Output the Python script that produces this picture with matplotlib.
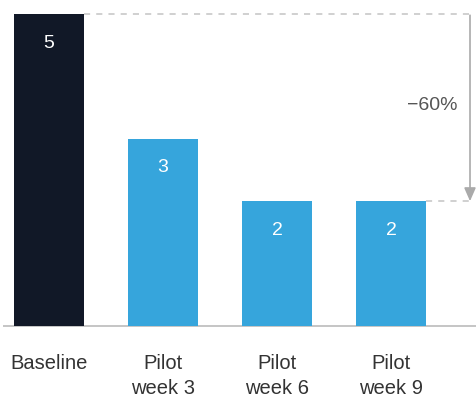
import matplotlib.pyplot as plt

categories = ['Baseline', 'Pilot\nweek 3', 'Pilot\nweek 6', 'Pilot\nweek 9']
values = [5, 3, 2, 2]
colors = ['#111827', '#36A5DC', '#36A5DC', '#36A5DC']
change_label = '\u221260%'

plt.rcParams['font.family'] = ['Liberation Sans', 'DejaVu Sans']

fig = plt.figure(figsize=(4.76, 3.98), dpi=100)
ax = fig.add_axes([0, 0, 1, 1])
ax.set_xlim(-0.4298, 3.7456)
ax.set_ylim(-1.154, 5.224)
ax.axis('off')

x = range(len(values))
bars = ax.bar(x, values, width=0.614, color=colors, zorder=2)

for xi, v in zip(x, values):
    ax.annotate(str(v), (xi, v), xytext=(0, -21), textcoords='offset points',
                ha='center', va='center', color='white', fontsize=14)

for xi, lab in zip(x, categories):
    ax.text(xi, -0.445, lab, ha='center', va='top', fontsize=14.5,
            color='#333333', linespacing=1.42)

# baseline rule
ax.hlines(0, -0.40, 3.75, color='#bbbbbb', lw=1.2, zorder=1)

# change from baseline to last pilot week
x_arrow = 3.693
ax.hlines(values[0], 0.307, 3.71, color='#c4c4c4', lw=1.1, linestyles=(0, (4, 4)))
ax.hlines(values[-1], 3.307, 3.71, color='#c4c4c4', lw=1.1, linestyles=(0, (4, 4)))
ax.annotate('', xy=(x_arrow, values[-1]), xytext=(x_arrow, values[0] - 0.02),
            arrowprops=dict(arrowstyle='-|>,head_width=0.35,head_length=0.8',
                            color='#aaaaaa', lw=1.2, shrinkA=0, shrinkB=0))
ax.text(3.36, 3.53, change_label, ha='center', va='center', fontsize=14,
        color='#555555')

fig.savefig('out.png', dpi=100)
